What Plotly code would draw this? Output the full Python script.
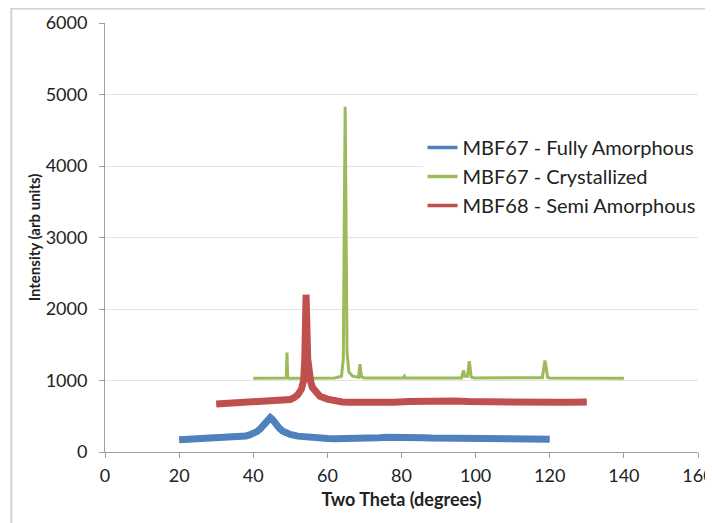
import plotly.graph_objects as go

# MBF67 - Fully Amorphous
blue_x = [20, 22, 24, 26, 28, 30, 32, 34, 36, 38, 39, 40, 41, 42, 43, 44, 44.6, 45.2, 46, 47, 48, 49, 50,
          52, 54, 56, 58, 60, 62, 64, 66, 68, 70, 72, 74, 76, 78, 80, 82, 84, 86, 88, 90, 92, 94, 96,
          98, 100, 102, 104, 106, 108, 110, 112, 114, 116, 118, 120]
blue_y = [170, 175, 180, 175, 180, 185, 190, 195, 205, 225, 240, 255, 285, 330, 395, 455, 480, 455, 395,
          335, 290, 262, 245, 222, 208, 200, 193, 188, 186, 185, 188, 186, 190, 195, 200, 205, 208, 210,
          205, 200, 200, 195, 195, 192, 193, 190, 190, 186, 188, 185, 186, 184, 183, 180, 182, 180, 180, 178]

# MBF67 - Crystallized
green_x = [40, 48.9, 49.1, 49.3, 49.6, 62, 63.8, 64.3, 64.6, 64.8, 65.0, 65.3, 65.8, 66.8, 68.4, 68.8,
           69.2, 70, 80.5, 80.8, 81.1, 96.2, 96.7, 97.1, 97.8, 98.3, 98.8, 99.5, 118.0, 118.5, 118.7,
           118.9, 119.4, 120, 140]
green_y = [1030, 1035, 1390, 1040, 1030, 1035, 1060, 1300, 3500, 4830, 3500, 1400, 1120, 1060, 1045, 1230,
           1050, 1035, 1035, 1060, 1035, 1035, 1140, 1060, 1060, 1270, 1050, 1035, 1040, 1230, 1280,
           1230, 1045, 1035, 1030]

# MBF68 - Semi Amorphous
red_x = [30, 32, 34, 36, 38, 40, 42, 44, 46, 48, 50, 51, 52, 53, 53.6, 53.9, 54.1, 54.25, 54.45, 54.7,
         55, 55.5, 56, 57, 58, 60, 62, 64, 66, 70, 74, 78, 82, 86, 90, 94, 98, 102, 106, 110, 114, 118,
         122, 126, 130]
red_y = [670, 675, 675, 680, 685, 690, 695, 700, 705, 715, 735, 760, 800, 880, 1000, 1300, 1800, 2200,
         1800, 1300, 1100, 980, 900, 830, 780, 740, 715, 700, 695, 690, 690, 695, 705, 715, 720, 715, 705,
         700, 710, 705, 700, 700, 695, 695, 700]

series_names = ["MBF67 - Fully Amorphous", "MBF67 - Crystallized", "MBF68 - Semi Amorphous"]
series_colors = ["#4F81BD", "#9BBB59", "#C0504D"]

x_ticks = [0, 20, 40, 60, 80, 100, 120, 140, 160]
y_ticks = [0, 1000, 2000, 3000, 4000, 5000, 6000]

FONT = "Lato, 'Open Sans', sans-serif"

fig = go.Figure()
fig.add_trace(go.Scatter(x=blue_x, y=blue_y, mode="lines", name=series_names[0], showlegend=False,
                         line=dict(color=series_colors[0], width=7)))
fig.add_trace(go.Scatter(x=green_x, y=green_y, mode="lines", name=series_names[1], showlegend=False,
                         line=dict(color=series_colors[1], width=3)))
fig.add_trace(go.Scatter(x=red_x, y=red_y, mode="lines", name=series_names[2], showlegend=False,
                         line=dict(color=series_colors[2], width=7)))
# legend entries (thin line samples, as in the original)
for name, color in zip(series_names, series_colors):
    fig.add_trace(go.Scatter(x=[None], y=[None], mode="lines", name=name,
                             line=dict(color=color, width=3.5)))

# the page body has an 8px margin: compensate
fig.update_layout(
    width=705, height=515,
    margin=dict(l=97, r=15, t=15, b=71, autoexpand=False),
    paper_bgcolor="white", plot_bgcolor="white",
    font=dict(family=FONT, size=18, color="#222"),
    legend=dict(xref="container", yref="container", x=0.588, y=0.767, xanchor="left", yanchor="top",
                font=dict(size=20, color="#222"), bgcolor="white",
                tracegroupgap=0, itemwidth=30),
    shapes=[dict(type="rect", xref="paper", yref="paper", x0=-0.158, x1=1.05, y0=-0.2, y1=1.034,
                 line=dict(color="#D0D0D0", width=2), fillcolor="rgba(0,0,0,0)", layer="below")],
)
fig.update_xaxes(range=[0, 160], tickvals=x_ticks, showgrid=False, showline=True, automargin=False,
                 linecolor="#A0A0A0", linewidth=1, ticks="outside", ticklen=5, tickcolor="#A0A0A0",
                 tickfont=dict(size=18), zeroline=False, ticklabelstandoff=2, ticklabeloverflow="allow",
                 title=dict(text="<b>Two Theta (degrees)</b>", font=dict(size=18), standoff=8))
fig.update_yaxes(range=[0, 6000], tickvals=y_ticks, showgrid=True, gridcolor="#E3E3E3", automargin=False,
                 showline=True, linecolor="#A0A0A0", linewidth=1, ticks="outside", ticklen=5,
                 tickcolor="#A0A0A0", tickfont=dict(size=18), zeroline=False, ticklabelstandoff=8,
                 title=dict(text="<b>Intensity (arb units)</b>", font=dict(size=15), standoff=1))

fig.write_html("out.html")
